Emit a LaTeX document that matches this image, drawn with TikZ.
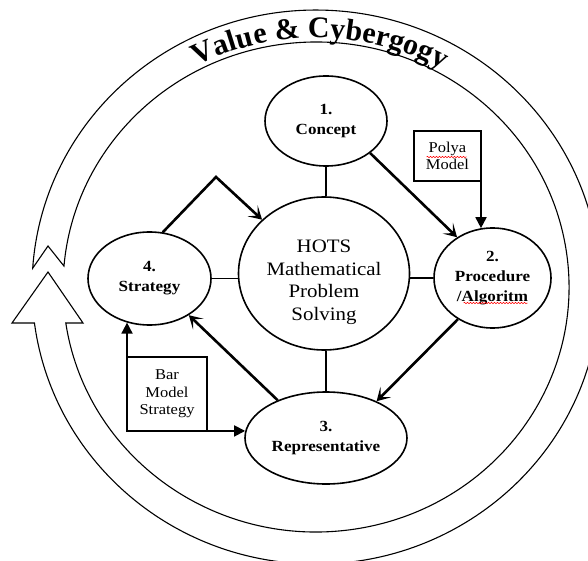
\documentclass[tikz,border=0pt]{standalone}
\usepackage{fontspec}
\setmainfont[FakeStretch=1.1]{Liberation Serif}
\newfontfamily\titlefamily{Liberation Serif}
\usetikzlibrary{shapes.geometric,arrows.meta,decorations.text,decorations.pathmorphing}

\begin{document}
\begin{tikzpicture}[x=1pt,y=1pt,
    stage/.style={draw, ellipse, line width=1.6pt, inner sep=0pt, align=center, font=\bfseries\fontsize{15.5}{20}\selectfont},
    aid/.style={draw, rectangle, line width=1.3pt, inner sep=0pt, outer sep=0pt, align=center, font=\fontsize{15}{17.5}\selectfont},
    link/.style={line width=1.6pt},
    flow/.style={line width=2.6pt, -{Stealth[length=13pt, width=15pt, inset=7pt]}},
    feed/.style={line width=1.8pt, -{Triangle[length=11pt, width=11pt]}},
    ring/.style={line width=1.1pt},
    spell/.style={red, line width=0.5pt, decorate, decoration={snake, amplitude=0.7pt, segment length=3pt}}]
  \useasboundingbox (0,0) rectangle (588,560);

  \draw[ring] (48,314) -- (32.7,291.8)
    arc[start angle=176.1, end angle=-172.53, x radius=284, y radius=277]
    -- (12,237) -- (48,288) -- (83,237) -- (65.8,237)
    arc[start angle=-171.55, end angle=175.1, x radius=253, y radius=245] -- cycle;
  \begin{scope}
    \titlefamily\bfseries\fontsize{30}{32}\selectfont
    \path[decorate, decoration={text along path, text align=center, text={Value {\&} Cybergogy}}]
      (93.1,401.2) arc[start angle=149, end angle=29, x radius=260, y radius=249];
  \end{scope}

  \node[stage, minimum width=122pt, minimum height=90pt] (concept) at (326,439) {1.\\Concept};
  \node[draw, ellipse, line width=1.6pt, minimum width=171pt, minimum height=153pt] (hots) at (324,286.5) {};
  \node[align=center, font=\fontsize{19}{22.5}\selectfont] (hotstext) at ([yshift=-9pt]hots.center) {HOTS\\Mathematical\\Problem\\Solving};
  \node[stage, minimum width=123pt, minimum height=93pt] (strategy) at (149.5,281.5) {4.\\Strategy};
  \node[stage, minimum width=117pt, minimum height=100pt] (procedure) at (492.5,282) {2.\\Procedure\\/Algoritm};
  \node[stage, minimum width=162pt, minimum height=92pt] (represent) at (326,122) {3.\\Representative};
  \node[aid, minimum width=67pt, minimum height=50pt] (polya) at (447.5,404) {Polya\\Model};
  \node[aid, minimum width=80pt, minimum height=74pt] (barmodel) at (167,166) {Bar\\Model\\Strategy};
  \coordinate (turn) at (216,383);

  \draw[link] (concept.south) -- (concept.south |- hots.north);
  \draw[link] (represent.north) -- (represent.north |- hots.south);
  \draw[link] (strategy.east) -- (strategy.east -| hots.west);
  \draw[link] (procedure.west) -- (procedure.west -| hots.east);

  \draw[flow] (concept.-36) -- (procedure.131);
  \draw[flow] (procedure.230) -- (represent.36);
  \draw[flow] (represent.142) -- (strategy.-43);
  \draw[flow] (strategy.74) -- (turn) -- (hots.139);

  \draw[feed] (polya.south east) -- (procedure.103);
  \draw[feed] (barmodel.north west) -- (strategy.243);
  \draw[feed] (barmodel.south east) -- (represent.175);

  \draw[spell] ([xshift=-21pt, yshift=-1pt]polya.center) -- ++(40,0);
  \draw[spell] ([xshift=-29pt, yshift=-25pt]procedure.center) -- ++(64,0);
\end{tikzpicture}
\end{document}
